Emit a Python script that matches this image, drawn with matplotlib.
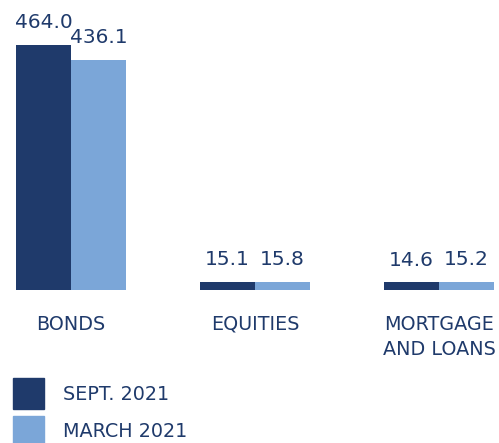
import matplotlib.pyplot as plt
from matplotlib.patches import Patch
import numpy as np

# data
categorias = ["BONDS", "EQUITIES", "MORTGAGE\nAND LOANS"]
sept_2021 = [464.0, 15.1, 14.6]
march_2021 = [436.1, 15.8, 15.2]
series_labels = ["SEPT. 2021", "MARCH 2021"]

cor_escura = "#1f3a6b"
cor_clara = "#7ba6d8"
cor_texto = "#1f3a6b"

plt.rcParams['font.family'] = ['DejaVu Sans']

fig = plt.figure(figsize=(4.99, 4.43), dpi=100)
ax = fig.add_axes([0, 153 / 443, 1, 290 / 443])

x = np.arange(len(categorias))
largura = 0.30

b1 = ax.bar(x - largura / 2, sept_2021, largura, color=cor_escura)
b2 = ax.bar(x + largura / 2, march_2021, largura, color=cor_clara)

for barras, valores in [(b1, sept_2021), (b2, march_2021)]:
    for barra, v in zip(barras, valores):
        ax.annotate(f"{v:.1f}", (barra.get_x() + barra.get_width() / 2, barra.get_height()),
                    xytext=(0, 12), textcoords="offset points",
                    ha="center", va="baseline", fontsize=14.5, color=cor_texto)

ax.set_xlim(-0.386, 2.326)
ax.set_ylim(0, 549)
ax.set_xticks(x)
ax.set_xticklabels(categorias, fontsize=13.8, color=cor_texto, linespacing=1.42)
ax.tick_params(axis="x", length=0, pad=18)
ax.set_yticks([])
for s in ax.spines.values():
    s.set_visible(False)

handles = [Patch(color=cor_escura), Patch(color=cor_clara)]
fig.legend(handles, series_labels, loc="upper left",
           bbox_to_anchor=(13 / 499, 1 - 378 / 443), frameon=False,
           fontsize=13.8, labelcolor=cor_texto, handlelength=1.62, handleheight=2.11,
           handletextpad=1.0, labelspacing=0.36, borderpad=0, borderaxespad=0)

fig.savefig("out.png", dpi=100)
